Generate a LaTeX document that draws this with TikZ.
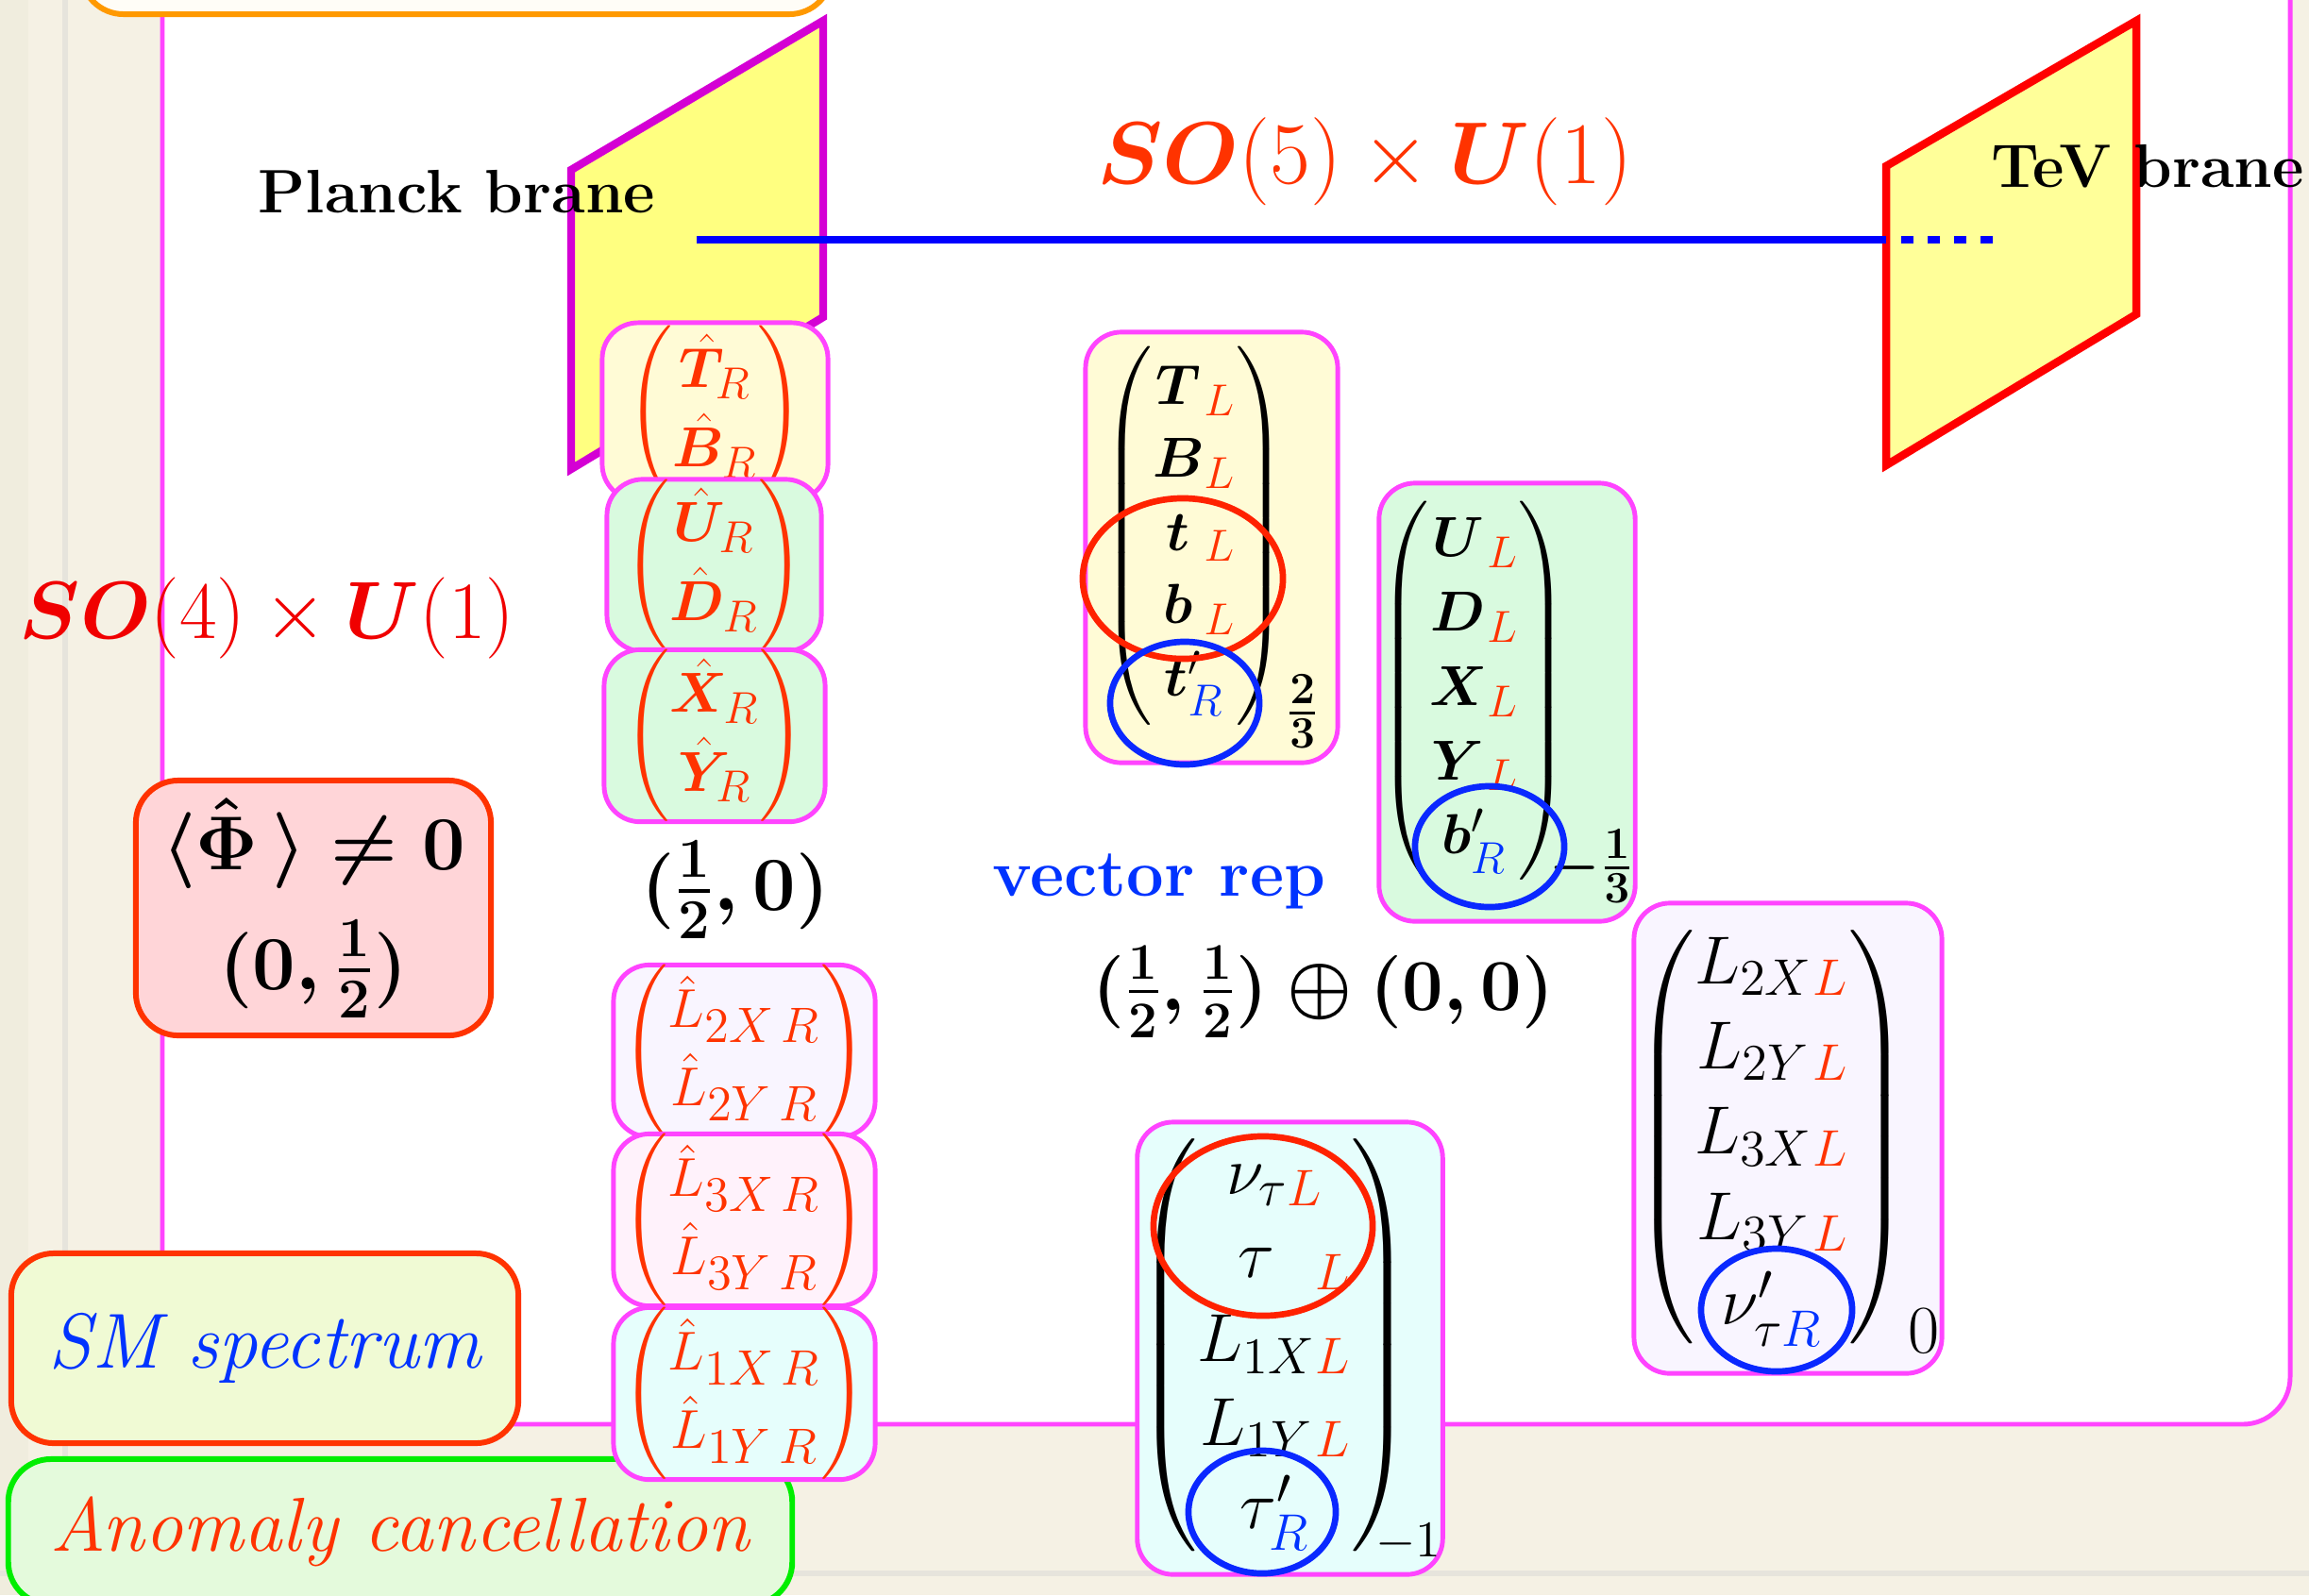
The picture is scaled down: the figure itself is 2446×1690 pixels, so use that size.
\RequirePackage{fix-cm}
\documentclass[tikz,border=0pt]{standalone}
\usepackage{amsmath}
\usepackage{bm}
\usetikzlibrary{shapes.geometric}

\DeclareMathSizes{17}{17}{13.5}{10}
\DeclareMathSizes{16.5}{16.5}{15}{10}
\DeclareMathSizes{20.5}{20.5}{15.5}{11}
\DeclareMathSizes{23}{23}{17}{12}
\DeclareMathSizes{22}{22}{15.5}{11}

\definecolor{pagebg}{RGB}{245,241,228}
\definecolor{stripbg}{RGB}{240,237,222}
\definecolor{seamgray}{RGB}{230,228,220}
\definecolor{framepink}{RGB}{255,68,255}
\definecolor{plancklilac}{RGB}{212,0,212}
\definecolor{braneyellow}{RGB}{255,255,128}
\definecolor{tevyellow}{RGB}{255,255,153}
\definecolor{tevred}{RGB}{255,0,0}
\definecolor{hotred}{RGB}{255,51,0}
\definecolor{groupred}{RGB}{240,0,0}
\definecolor{primeblue}{RGB}{0,51,255}
\definecolor{bulkblue}{RGB}{0,0,255}
\definecolor{ringred}{RGB}{255,34,0}
\definecolor{ringblue}{RGB}{10,40,255}
\definecolor{creamfill}{RGB}{255,251,214}
\definecolor{mintfill}{RGB}{217,250,223}
\definecolor{lavenderfill}{RGB}{249,245,255}
\definecolor{blushfill}{RGB}{255,242,251}
\definecolor{aquafill}{RGB}{230,254,252}
\definecolor{rosefill}{RGB}{255,213,216}
\definecolor{limefill}{RGB}{240,250,212}
\definecolor{anomalyfill}{RGB}{228,250,220}
\definecolor{anomalygreen}{RGB}{0,238,0}
\definecolor{topedge}{RGB}{255,153,0}
\definecolor{topfill}{RGB}{255,253,247}

\newcommand{\lL}{{\color{hotred}L}}
\newcommand{\rR}{{\color{primeblue}R}}
\newcommand{\both}[1]{\multicolumn{2}{@{}c@{}}{#1}}
\newcommand{\fieldcol}[2]{\renewcommand{\arraystretch}{#1}%
  \left(\begin{array}{@{}c@{}l@{}}#2\end{array}\right)}

\begin{document}
\begin{tikzpicture}[x=0.01cm,y=-0.01cm,
    multiplet/.style={rectangle,rounded corners=0.38cm,draw=framepink,
      line width=1.4pt,inner sep=0pt},
    quarkbox/.style={multiplet,font=\fontsize{17}{20}\selectfont},
    leptonbox/.style={multiplet,font=\fontsize{20.5}{24}\selectfont},
    hatbox/.style={multiplet,text=hotred,font=\fontsize{17}{20}\selectfont},
    lhatbox/.style={multiplet,text=hotred,font=\fontsize{16.5}{18}\selectfont},
    labelbox/.style={rectangle,rounded corners=0.45cm,line width=1.7pt,
      inner sep=0pt},
    ring/.style={ellipse,line width=1.9pt,inner sep=0pt},
    brane/.style={line width=2.4pt}]
  \useasboundingbox (0,0) rectangle (2446,1690);
  % page and frame
  \fill[pagebg] (0,0) rectangle (2446,1690);
  \fill[stripbg] (0,0) rectangle (30,1690);
  \fill[seamgray] (66,0) rectangle (72,1690);
  \fill[seamgray] (0,1664) rectangle (2446,1670);
  \draw[framepink,line width=1.4pt,fill=white,rounded corners=0.5cm]
    (172,-60) rectangle (2426,1509);
  \node[labelbox,draw=topedge,fill=topfill,minimum width=7.95cm,
    minimum height=0.9cm] (topbox) at (483.5,-30) {};

  % branes and bulk
  \draw[brane,draw=plancklilac,fill=braneyellow]
    (605,180) -- (872,22) -- (872,336) -- (605,497) -- cycle;
  \draw[brane,draw=tevred,fill=tevyellow]
    (1998,176) -- (2263,22) -- (2263,333) -- (1998,493) -- cycle;
  \node[font=\fontsize{18.5}{22}\selectfont\bfseries,anchor=base]
    (planck) at (484,225) {Planck brane};
  \node[font=\fontsize{18.5}{22}\selectfont\bfseries,anchor=base]
    (tev) at (2275,198) {TeV brane};
  \coordinate (bulkstart) at (738,254);
  \coordinate (tevedge) at (1998,254);
  \coordinate (dotstart) at (2014,254);
  \coordinate (dotend) at (2115,254);
  \draw[bulkblue,line width=2.3pt] (bulkstart) -- (tevedge);
  \draw[bulkblue,line width=2.3pt,dash pattern=on 0.13cm off 0.15cm]
    (dotstart) -- (dotend);
  \node[text=hotred,font=\fontsize{26.5}{30}\selectfont,anchor=base]
    (bulkgroup) at (1446,194) {$\bm{SO}(5)\times\bm{U}(1)$};
  \node[text=groupred,font=\fontsize{24.5}{28}\selectfont,anchor=base]
    (branegroup) at (283,676) {$\bm{SO}(4)\times\bm{U}(1)$};

  % labels
  \node[labelbox,draw=hotred,fill=rosefill,minimum width=3.76cm,
    minimum height=2.7cm,font=\fontsize{23}{36}\selectfont\boldmath,
    align=center] (vev) at (332,962)
    {$\langle\hat{\Phi}\,\rangle\neq0$\\ $(0,\frac{1}{2})$};
  \node[font=\fontsize{23}{26}\selectfont\boldmath,anchor=base]
    (spinorrep) at (779,964) {$(\frac{1}{2},0)$};
  \node[text=primeblue,font=\fontsize{20}{24}\selectfont\bfseries,
    anchor=base] (vecrep) at (1228,949) {vector rep};
  \node[font=\fontsize{22}{26}\selectfont\boldmath,anchor=base]
    (vecdecomp) at (1402,1070)
    {$(\frac{1}{2},\frac{1}{2})\oplus(0,0)$};
  \node[labelbox,draw=hotred,fill=limefill,minimum width=5.37cm,
    minimum height=2.01cm,text=primeblue,
    font=\fontsize{23.5}{27}\selectfont\itshape]
    (smspec) at (280.5,1428.5) {SM spectrum};
  \node[labelbox,draw=anomalygreen,fill=anomalyfill,minimum width=8.3cm,
    minimum height=1.54cm,text=hotred,
    font=\fontsize{23}{27}\selectfont\itshape]
    (anomaly) at (424,1623) {Anomaly cancellation};

  % brane multiplets
  \node[hatbox,fill=creamfill,minimum width=2.39cm,minimum height=1.88cm]
    (TBhat) at (757.5,436) {$\fieldcol{1.19}{\hat{\bm T}_R\\ \hat{\bm B}_R}$};
  \node[hatbox,fill=mintfill,minimum width=2.27cm,minimum height=1.74cm]
    (UDhat) at (756.5,599) {$\fieldcol{1.19}{\hat{\bm U}_R\\ \hat{\bm D}_R}$};
  \node[hatbox,fill=mintfill,minimum width=2.34cm,minimum height=1.67cm]
    (XYhat) at (757,779.5) {$\fieldcol{1.19}{\hat{\bm X}_R\\ \hat{\bm Y}_R}$};
  \node[lhatbox,fill=lavenderfill,minimum width=2.77cm,
    minimum height=1.75cm] (Ltwohat) at (788.5,1113.5)
    {$\fieldcol{1.3}{\hat L_{2X\,R}\\ \hat L_{2Y\,R}}$};
  \node[lhatbox,fill=blushfill,minimum width=2.77cm,
    minimum height=1.77cm] (Lthreehat) at (788.5,1292.5)
    {$\fieldcol{1.3}{\hat L_{3X\,R}\\ \hat L_{3Y\,R}}$};
  \node[lhatbox,fill=aquafill,minimum width=2.77cm,
    minimum height=1.79cm] (Lonehat) at (788.5,1476.5)
    {$\fieldcol{1.3}{\hat L_{1X\,R}\\ \hat L_{1Y\,R}}$};

  % bulk multiplets
  \node[quarkbox,fill=creamfill,minimum width=2.67cm,minimum height=4.56cm]
    (Tmult) at (1283.5,580)
    {$\fieldcol{1.1}{\bm T & {}_{\lL}\\ \bm B & {}_{\lL}\\ \bm t & {}_{\lL}\\
      \bm b & {}_{\lL}\\ \both{\bm t'_{\rR}}}_{\mbox{\boldmath$\frac{2}{3}$}}$};
  \node[quarkbox,fill=mintfill,minimum width=2.71cm,minimum height=4.64cm]
    (Umult) at (1596.5,744)
    {$\fieldcol{1.12}{\bm U & {}_{\lL}\\ \bm D & {}_{\lL}\\ \bm X & {}_{\lL}\\
      \bm Y & {}_{\lL}\\ \both{\bm b'_{\rR}}}_{\hspace{-0.2cm}
      \mbox{\boldmath$-\frac{1}{3}$}}$};
  \node[leptonbox,fill=lavenderfill,minimum width=3.26cm,
    minimum height=4.98cm] (Lmult) at (1894,1206)
    {$\fieldcol{1.07}{L_{2X} & {}_{\lL}\\ L_{2Y} & {}_{\lL}\\
      L_{3X} & {}_{\lL}\\ L_{3Y} & {}_{\lL}\\
      \both{\nu'_{\tau\rR}}}_{\mbox{$0$}}$};
  \node[leptonbox,fill=aquafill,minimum width=3.21cm,minimum height=4.79cm]
    (numult) at (1366.5,1428.5)
    {$\fieldcol{1.05}{\both{\nu_{\tau\lL}}\\ \tau & {}_{\lL}\\
      L_{1X} & {}_{\lL}\\ L_{1Y} & {}_{\lL}\\
      \both{\tau'_{\rR}}}_{\hspace{-0.38cm}-1}$};

  % rings
  \node[ring,draw=ringred,minimum width=2.12cm,minimum height=1.7cm]
    (ringtb) at (1253,613) {};
  \node[ring,draw=ringred,minimum width=2.32cm,minimum height=1.9cm]
    (ringnutau) at (1338,1299) {};
  \node[ring,draw=ringblue,minimum width=1.58cm,minimum height=1.3cm]
    (ringtprime) at (1255,745) {};
  \node[ring,draw=ringblue,minimum width=1.58cm,minimum height=1.28cm]
    (ringbprime) at (1578,897) {};
  \node[ring,draw=ringblue,minimum width=1.56cm,minimum height=1.3cm]
    (ringtauprime) at (1337,1602) {};
  \node[ring,draw=ringblue,minimum width=1.6cm,minimum height=1.3cm]
    (ringnuprime) at (1882,1388) {};
\end{tikzpicture}
\end{document}
